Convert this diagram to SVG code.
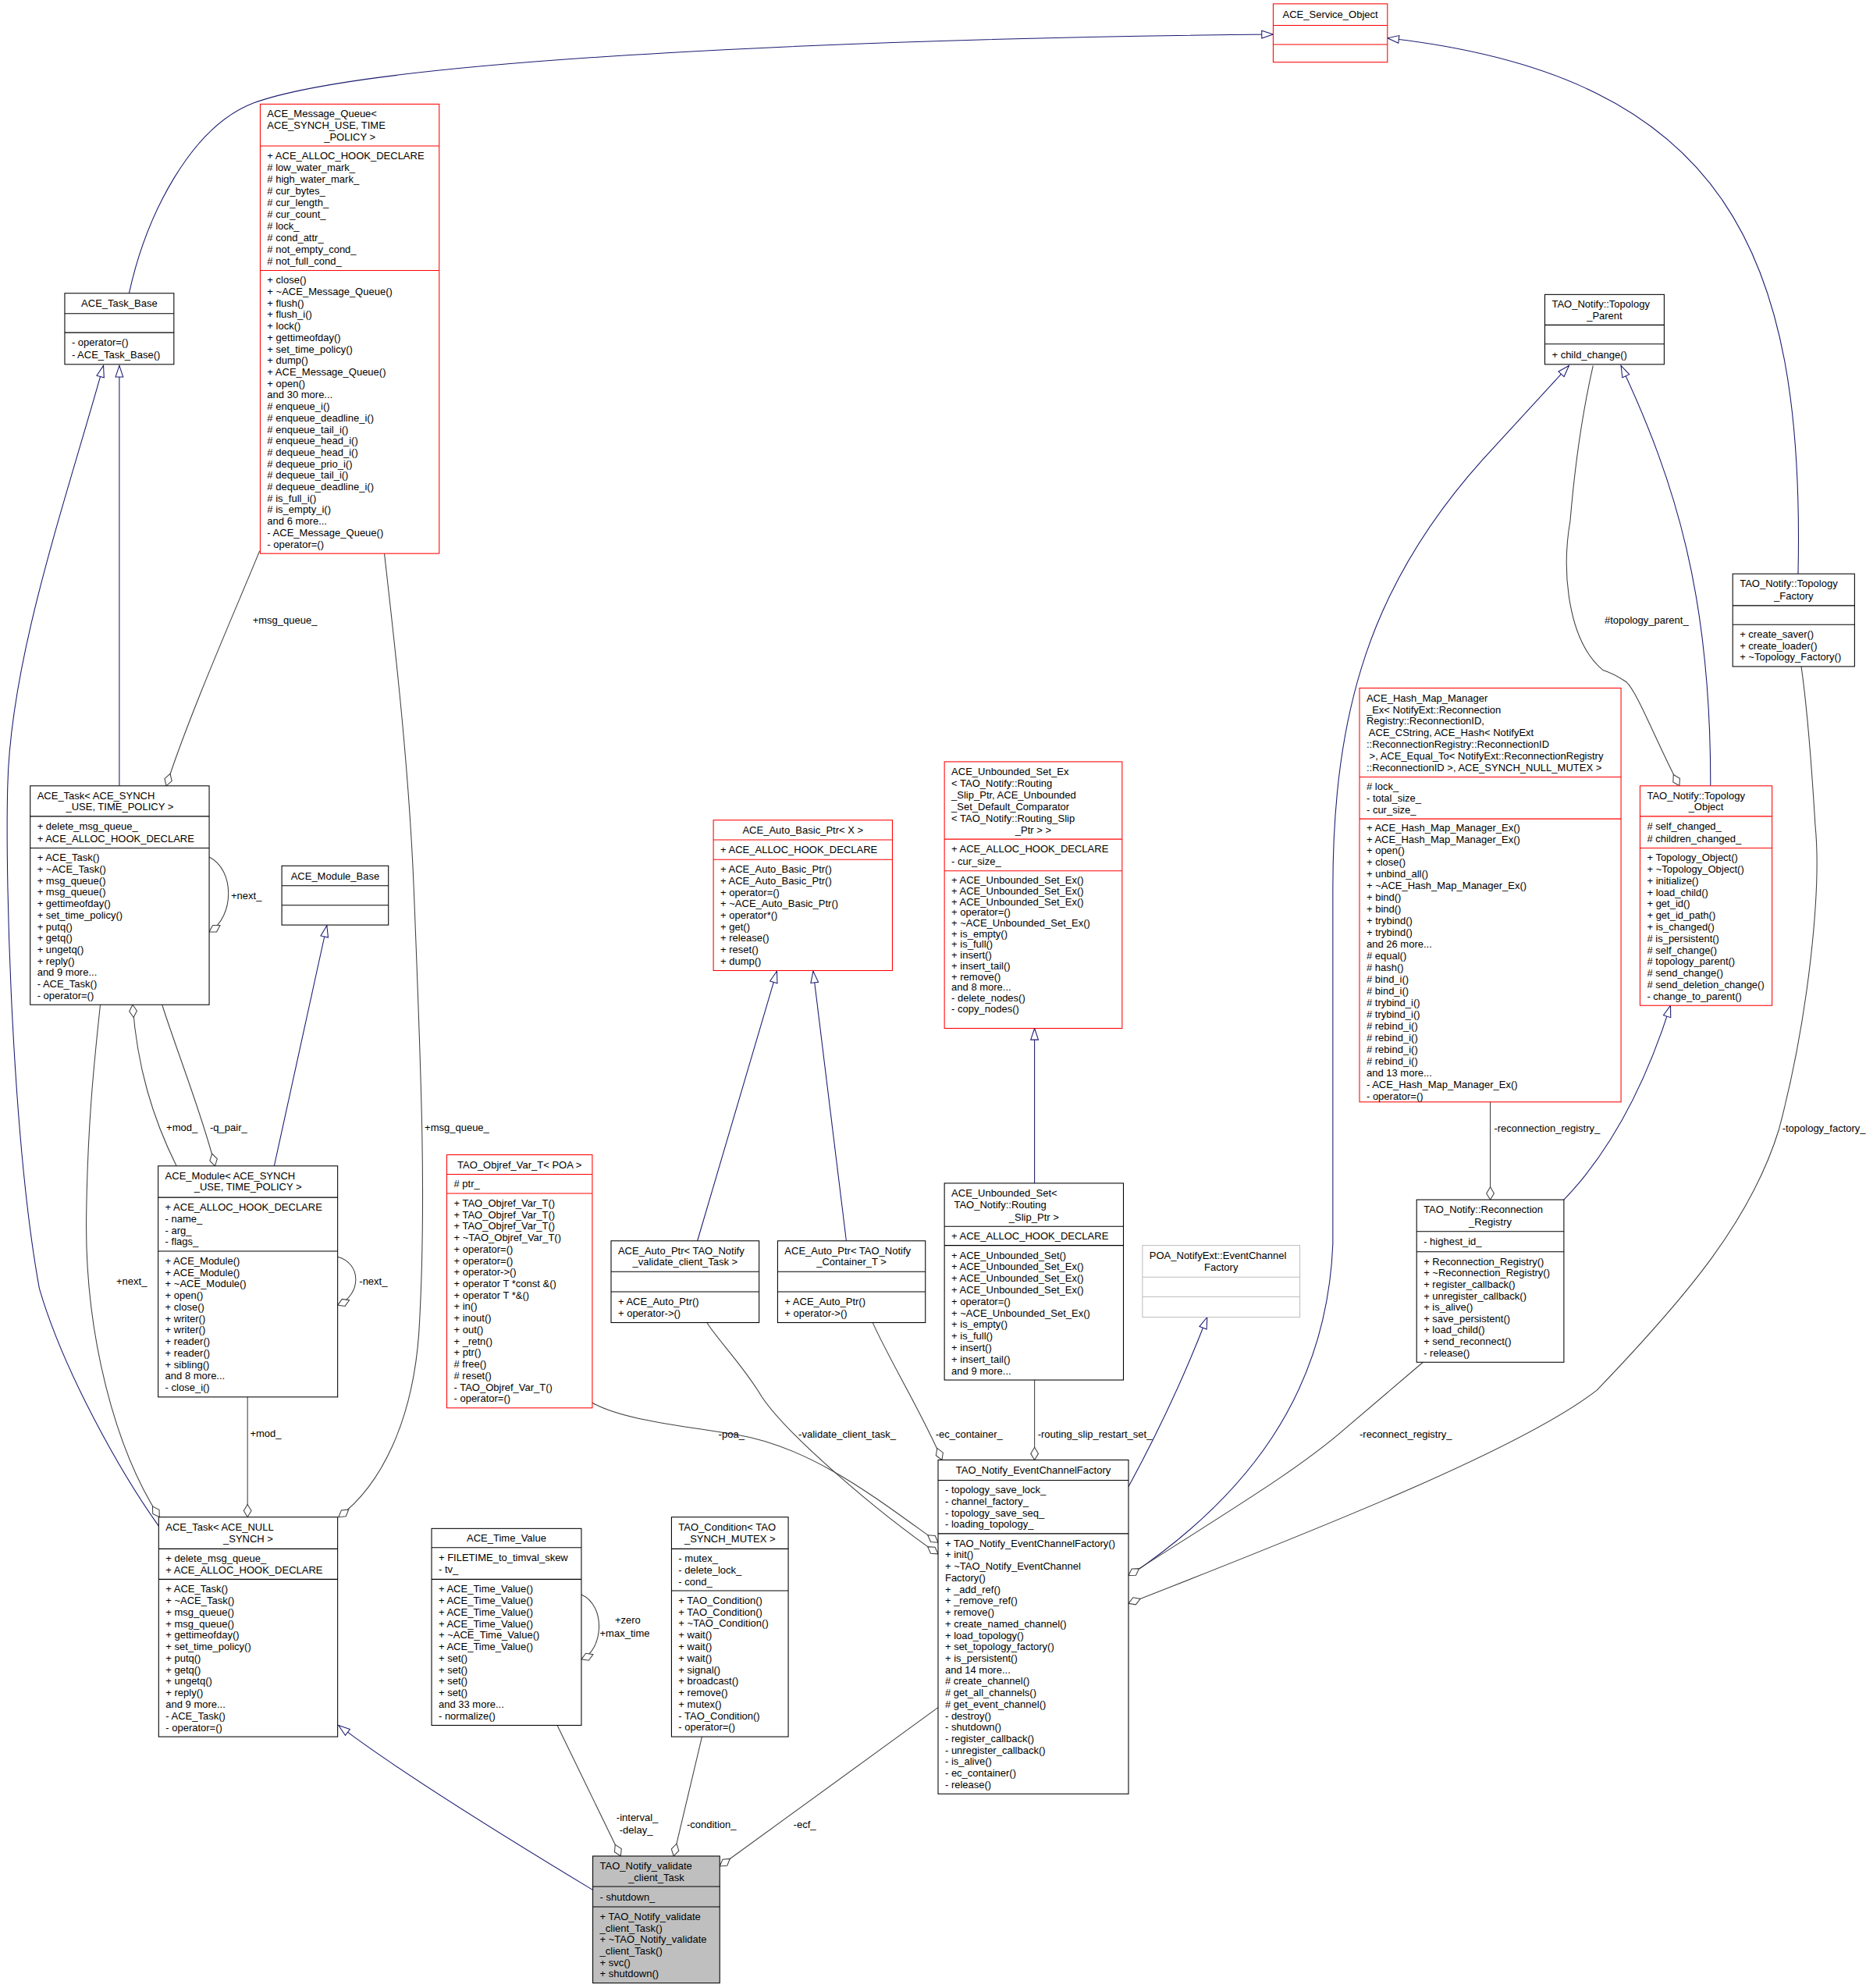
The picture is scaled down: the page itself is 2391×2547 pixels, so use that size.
<svg xmlns="http://www.w3.org/2000/svg" width="2391" height="2547" viewBox="0 0 2391 2547">
<style>
.b{fill:#fff;stroke:#000;stroke-width:.65}
.r{fill:#fff;stroke:#f00;stroke-width:.65}
.g{fill:#fff;stroke:#bfbfbf;stroke-width:.65}
.s{fill:#bfbfbf;stroke:#000;stroke-width:.65}
.lb{stroke:#000;stroke-width:.65}
.lr{stroke:#f00;stroke-width:.65}
.lg{stroke:#bfbfbf;stroke-width:.65}
text{font-family:"Liberation Sans",Arial,sans-serif;font-size:8px;fill:#000}
.c{text-anchor:middle}
.e{fill:none;stroke:#404040;stroke-width:.65;marker-start:url(#d)}
.i{fill:none;stroke:#191970;stroke-width:.65;marker-end:url(#a)}
</style>
<defs>
<marker id="a" markerUnits="userSpaceOnUse" markerWidth="11" markerHeight="8" refX="9" refY="3" orient="auto" viewBox="-1 -1 11 8" overflow="visible"><path d="M0,0 L9,3 L0,6 Z" fill="#fff" stroke="#191970" stroke-width=".65"/></marker>
<marker id="d" markerUnits="userSpaceOnUse" markerWidth="12" markerHeight="8" refX="0" refY="3" orient="auto" viewBox="-1 -1 12 8" overflow="visible"><path d="M0,3 L5,0 L10,3 L5,6 Z" fill="#fff" stroke="#404040" stroke-width=".65"/></marker>
</defs>
<rect width="2391" height="2547" fill="#fff"/>
<g transform="scale(1.62653)">
<g id="edges">
<path class="i" d="M101.7,231 C115,170 150,100 200,81 C300,45 700,30 1003,27"/>
<path class="i" d="M1416.5,452 C1422,200 1360,60 1093,30"/>
<path class="i" d="M94,619 L94,288"/>
<path class="i" d="M125,1202 C95,1160 50,1080 31,1015 C10,900 4,700 6,620 C8,520 50,400 81.5,288"/>
<path class="i" d="M216,918.4 L257.5,729"/>
<path class="i" d="M467.5,1489 Q320,1400 266.7,1359"/>
<path class="i" d="M549.4,977.4 L612,765"/>
<path class="i" d="M666.7,977.4 L640.6,765"/>
<path class="i" d="M815,932 L815,810"/>
<path class="i" d="M889,1171 Q925,1105 951,1037.5"/>
<path class="i" d="M890,1241 C980,1180 1045,1100 1050,980 L1050,700 C1050,560 1080,460 1168,362 L1236,288"/>
<path class="i" d="M1347.5,619 C1348,470 1320,380 1277,288"/>
<path class="i" d="M1232,945 Q1285,890 1316,792"/>
<path class="e" d="M131,619 C150,560 190,470 204.5,434"/>
<path class="e" d="M266.7,1195 C300,1170 325,1120 330,1050 C336,950 332,850 326,700 C322,600 310,500 302.8,436"/>
<path class="e" d="M164.8,734 C185,722 185,685 164.8,675"/>
<path class="e" d="M125.6,1195 C90,1140 67,1050 68,960 C69,880 75,830 79,791.4"/>
<path class="e" d="M104.5,791.4 C108,840 120,880 139,918.4"/>
<path class="e" d="M169.4,918.4 C160,880 140,830 127.7,791.4"/>
<path class="e" d="M266,1028 C285,1020 285,995 266,990"/>
<path class="e" d="M195,1195 L195,1100.4"/>
<path class="e" d="M458,1307 C475,1300 478,1265 458,1256"/>
<path class="e" d="M489,1462 L439,1359"/>
<path class="e" d="M530.7,1462 L553,1368"/>
<path class="e" d="M567,1470 L739,1345"/>
<path class="e" d="M739,1215 C690,1180 640,1140 580,1130 C530,1122 490,1118 466.6,1105"/>
<path class="e" d="M739,1224 C690,1190 620,1130 600,1100 C585,1075 565,1055 557,1042"/>
<path class="e" d="M742,1150 C730,1120 700,1070 687.6,1042"/>
<path class="e" d="M815,1150 L815,1087"/>
<path class="e" d="M889,1241 C960,1195 1020,1160 1060,1125 L1121,1073"/>
<path class="e" d="M1174,945 L1174,868"/>
<path class="e" d="M889,1263 C1050,1200 1200,1140 1258,1095 C1330,1020 1380,960 1401.6,889 C1425,800 1435,700 1430,650 C1427,600 1424,560 1419,525"/>
<path class="e" d="M1323,619 C1305,585 1290,545 1281,537 Q1270,530 1263,528 C1235,505 1230,450 1237,410 C1242,350 1250,310 1255,288"/>
<text x="199" y="491.5">+msg_queue_</text>
<text x="182" y="708">+next_</text>
<text x="131" y="891">+mod_</text>
<text x="165.4" y="891">-q_pair_</text>
<text x="91.6" y="1012">+next_</text>
<text x="283" y="1012">-next_</text>
<text x="334.5" y="891">+msg_queue_</text>
<text x="197" y="1132">+mod_</text>
<text x="484.4" y="1279">+zero</text>
<text x="472.5" y="1289">+max_time</text>
<text x="485.6" y="1434.5">-interval_</text>
<text x="488" y="1444">-delay_</text>
<text x="541" y="1440">-condition_</text>
<text x="625" y="1440">-ecf_</text>
<text x="566" y="1132.5">-poa_</text>
<text x="629" y="1132.5">-validate_client_task_</text>
<text x="737" y="1132.5">-ec_container_</text>
<text x="817.5" y="1132.5">-routing_slip_restart_set_</text>
<text x="1071" y="1132.5">-reconnect_registry_</text>
<text x="1177" y="891.5">-reconnection_registry_</text>
<text x="1404" y="891.5">-topology_factory_</text>
<text x="1264" y="491">#topology_parent_</text>
</g>

<g id="ACE_Service_Object">
<rect class="r" x="1003" y="3" width="90" height="46"/>
<path class="lr" d="M1003,20H1093M1003,35H1093"/>
<text class="c" x="1048" y="14.4">ACE_Service_Object</text>
</g>

<g id="ACE_Message_Queue">
<rect class="r" x="205" y="82" width="141" height="354"/>
<path class="lr" d="M205,115H346M205,213H346"/>
<text x="210.5" y="92.4">ACE_Message_Queue&lt;</text>
<text x="210.5" y="101.4"> ACE_SYNCH_USE, TIME</text>
<text class="c" x="275.5" y="110.4">_POLICY &gt;</text>
<text x="210.5" y="125.5"><tspan x="210.5">+ ACE_ALLOC_HOOK_DECLARE</tspan><tspan x="210.5" dy="9.2"># low_water_mark_</tspan><tspan x="210.5" dy="9.2"># high_water_mark_</tspan><tspan x="210.5" dy="9.2"># cur_bytes_</tspan><tspan x="210.5" dy="9.2"># cur_length_</tspan><tspan x="210.5" dy="9.2"># cur_count_</tspan><tspan x="210.5" dy="9.2"># lock_</tspan><tspan x="210.5" dy="9.2"># cond_attr_</tspan><tspan x="210.5" dy="9.2"># not_empty_cond_</tspan><tspan x="210.5" dy="9.2"># not_full_cond_</tspan></text>
<text x="210.5" y="223.4"><tspan x="210.5">+ close()</tspan><tspan x="210.5" dy="9.04">+ ~ACE_Message_Queue()</tspan><tspan x="210.5" dy="9.04">+ flush()</tspan><tspan x="210.5" dy="9.04">+ flush_i()</tspan><tspan x="210.5" dy="9.04">+ lock()</tspan><tspan x="210.5" dy="9.04">+ gettimeofday()</tspan><tspan x="210.5" dy="9.04">+ set_time_policy()</tspan><tspan x="210.5" dy="9.04">+ dump()</tspan><tspan x="210.5" dy="9.04">+ ACE_Message_Queue()</tspan><tspan x="210.5" dy="9.04">+ open()</tspan><tspan x="210.5" dy="9.04">and 30 more...</tspan><tspan x="210.5" dy="9.04"># enqueue_i()</tspan><tspan x="210.5" dy="9.04"># enqueue_deadline_i()</tspan><tspan x="210.5" dy="9.04"># enqueue_tail_i()</tspan><tspan x="210.5" dy="9.04"># enqueue_head_i()</tspan><tspan x="210.5" dy="9.04"># dequeue_head_i()</tspan><tspan x="210.5" dy="9.04"># dequeue_prio_i()</tspan><tspan x="210.5" dy="9.04"># dequeue_tail_i()</tspan><tspan x="210.5" dy="9.04"># dequeue_deadline_i()</tspan><tspan x="210.5" dy="9.04"># is_full_i()</tspan><tspan x="210.5" dy="9.04"># is_empty_i()</tspan><tspan x="210.5" dy="9.04">and 6 more...</tspan><tspan x="210.5" dy="9.04">- ACE_Message_Queue()</tspan><tspan x="210.5" dy="9.04">- operator=()</tspan></text>
</g>

<g id="ACE_Task_Base">
<rect class="b" x="51" y="231" width="86" height="56"/>
<path class="lb" d="M51,247H137M51,262H137"/>
<text class="c" x="94" y="241.9">ACE_Task_Base</text>
<text x="56.5" y="272.6"><tspan x="56.5">- operator=()</tspan><tspan x="56.5" dy="9.5">- ACE_Task_Base()</tspan></text>
</g>

<g id="Topology_Parent">
<rect class="b" x="1217" y="232" width="94" height="55"/>
<path class="lb" d="M1217,256H1311M1217,271H1311"/>
<text x="1222.5" y="242.4">TAO_Notify::Topology</text>
<text class="c" x="1264" y="251.4">_Parent</text>
<text x="1222.5" y="281.9">+ child_change()</text>
</g>

<g id="Topology_Factory">
<rect class="b" x="1365" y="452" width="96" height="73"/>
<path class="lb" d="M1365,477H1461M1365,492H1461"/>
<text x="1370.5" y="462.6">TAO_Notify::Topology</text>
<text class="c" x="1413" y="472.1">_Factory</text>
<text x="1370.5" y="502.4"><tspan x="1370.5">+ create_saver()</tspan><tspan x="1370.5" dy="9">+ create_loader()</tspan><tspan x="1370.5" dy="9">+ ~Topology_Factory()</tspan></text>
</g>

<g id="ACE_Hash_Map_Manager_Ex">
<rect class="r" x="1071" y="542" width="206" height="326"/>
<path class="lr" d="M1071,612H1277M1071,645H1277"/>
<text x="1076.5" y="552.5"><tspan x="1076.5">ACE_Hash_Map_Manager</tspan><tspan x="1076.5" dy="9.14">_Ex&lt; NotifyExt::Reconnection</tspan><tspan x="1076.5" dy="9.14">Registry::ReconnectionID,</tspan><tspan x="1076.5" dy="9.14"> ACE_CString, ACE_Hash&lt; NotifyExt</tspan><tspan x="1076.5" dy="9.14">::ReconnectionRegistry::ReconnectionID</tspan><tspan x="1076.5" dy="9.14"> &gt;, ACE_Equal_To&lt; NotifyExt::ReconnectionRegistry</tspan><tspan x="1076.5" dy="9.14">::ReconnectionID &gt;, ACE_SYNCH_NULL_MUTEX &gt;</tspan></text>
<text x="1076.5" y="622.4"><tspan x="1076.5"># lock_</tspan><tspan x="1076.5" dy="9">- total_size_</tspan><tspan x="1076.5" dy="9">- cur_size_</tspan></text>
<text x="1076.5" y="654.5"><tspan x="1076.5">+ ACE_Hash_Map_Manager_Ex()</tspan><tspan x="1076.5" dy="9.2">+ ACE_Hash_Map_Manager_Ex()</tspan><tspan x="1076.5" dy="9.2">+ open()</tspan><tspan x="1076.5" dy="9.2">+ close()</tspan><tspan x="1076.5" dy="9.2">+ unbind_all()</tspan><tspan x="1076.5" dy="9.2">+ ~ACE_Hash_Map_Manager_Ex()</tspan><tspan x="1076.5" dy="9.2">+ bind()</tspan><tspan x="1076.5" dy="9.2">+ bind()</tspan><tspan x="1076.5" dy="9.2">+ trybind()</tspan><tspan x="1076.5" dy="9.2">+ trybind()</tspan><tspan x="1076.5" dy="9.2">and 26 more...</tspan><tspan x="1076.5" dy="9.2"># equal()</tspan><tspan x="1076.5" dy="9.2"># hash()</tspan><tspan x="1076.5" dy="9.2"># bind_i()</tspan><tspan x="1076.5" dy="9.2"># bind_i()</tspan><tspan x="1076.5" dy="9.2"># trybind_i()</tspan><tspan x="1076.5" dy="9.2"># trybind_i()</tspan><tspan x="1076.5" dy="9.2"># rebind_i()</tspan><tspan x="1076.5" dy="9.2"># rebind_i()</tspan><tspan x="1076.5" dy="9.2"># rebind_i()</tspan><tspan x="1076.5" dy="9.2"># rebind_i()</tspan><tspan x="1076.5" dy="9.2">and 13 more...</tspan><tspan x="1076.5" dy="9.2">- ACE_Hash_Map_Manager_Ex()</tspan><tspan x="1076.5" dy="9.2">- operator=()</tspan></text>
</g>

<g id="Topology_Object">
<rect class="r" x="1292" y="619" width="104" height="173"/>
<path class="lr" d="M1292,643H1396M1292,668H1396"/>
<text x="1297.5" y="629.4">TAO_Notify::Topology</text>
<text class="c" x="1344" y="638.4">_Object</text>
<text x="1297.5" y="653.6"><tspan x="1297.5"># self_changed_</tspan><tspan x="1297.5" dy="9.5"># children_changed_</tspan></text>
<text x="1297.5" y="678.4"><tspan x="1297.5">+ Topology_Object()</tspan><tspan x="1297.5" dy="9.08">+ ~Topology_Object()</tspan><tspan x="1297.5" dy="9.08">+ initialize()</tspan><tspan x="1297.5" dy="9.08">+ load_child()</tspan><tspan x="1297.5" dy="9.08">+ get_id()</tspan><tspan x="1297.5" dy="9.08">+ get_id_path()</tspan><tspan x="1297.5" dy="9.08">+ is_changed()</tspan><tspan x="1297.5" dy="9.08"># is_persistent()</tspan><tspan x="1297.5" dy="9.08"># self_change()</tspan><tspan x="1297.5" dy="9.08"># topology_parent()</tspan><tspan x="1297.5" dy="9.08"># send_change()</tspan><tspan x="1297.5" dy="9.08"># send_deletion_change()</tspan><tspan x="1297.5" dy="9.08">- change_to_parent()</tspan></text>
</g>

<g id="ACE_Unbounded_Set_Ex">
<rect class="r" x="744" y="600" width="140" height="210"/>
<path class="lr" d="M744,661H884M744,686H884"/>
<text x="749.5" y="610.5"><tspan x="749.5">ACE_Unbounded_Set_Ex</tspan><tspan x="749.5" dy="9.17">&lt; TAO_Notify::Routing</tspan><tspan x="749.5" dy="9.17">_Slip_Ptr, ACE_Unbounded</tspan><tspan x="749.5" dy="9.17">_Set_Default_Comparator</tspan><tspan x="749.5" dy="9.17">&lt; TAO_Notify::Routing_Slip</tspan></text>
<text class="c" x="814" y="656.4">_Ptr &gt; &gt;</text>
<text x="749.5" y="671.6"><tspan x="749.5">+ ACE_ALLOC_HOOK_DECLARE</tspan><tspan x="749.5" dy="9.5">- cur_size_</tspan></text>
<text x="749.5" y="696.1"><tspan x="749.5">+ ACE_Unbounded_Set_Ex()</tspan><tspan x="749.5" dy="8.43">+ ACE_Unbounded_Set_Ex()</tspan><tspan x="749.5" dy="8.43">+ ACE_Unbounded_Set_Ex()</tspan><tspan x="749.5" dy="8.43">+ operator=()</tspan><tspan x="749.5" dy="8.43">+ ~ACE_Unbounded_Set_Ex()</tspan><tspan x="749.5" dy="8.43">+ is_empty()</tspan><tspan x="749.5" dy="8.43">+ is_full()</tspan><tspan x="749.5" dy="8.43">+ insert()</tspan><tspan x="749.5" dy="8.43">+ insert_tail()</tspan><tspan x="749.5" dy="8.43">+ remove()</tspan><tspan x="749.5" dy="8.43">and 8 more...</tspan><tspan x="749.5" dy="8.43">- delete_nodes()</tspan><tspan x="749.5" dy="8.43">- copy_nodes()</tspan></text>
</g>

<g id="ACE_Auto_Basic_Ptr">
<rect class="r" x="562" y="646" width="141" height="118.5"/>
<path class="lr" d="M562,661.5H703M562,677H703"/>
<text class="c" x="632.5" y="656.6">ACE_Auto_Basic_Ptr&lt; X &gt;</text>
<text x="567.5" y="672.1">+ ACE_ALLOC_HOOK_DECLARE</text>
<text x="567.5" y="687.4"><tspan x="567.5">+ ACE_Auto_Basic_Ptr()</tspan><tspan x="567.5" dy="9.06">+ ACE_Auto_Basic_Ptr()</tspan><tspan x="567.5" dy="9.06">+ operator=()</tspan><tspan x="567.5" dy="9.06">+ ~ACE_Auto_Basic_Ptr()</tspan><tspan x="567.5" dy="9.06">+ operator*()</tspan><tspan x="567.5" dy="9.06">+ get()</tspan><tspan x="567.5" dy="9.06">+ release()</tspan><tspan x="567.5" dy="9.06">+ reset()</tspan><tspan x="567.5" dy="9.06">+ dump()</tspan></text>
</g>

<g id="ACE_Task_SYNCH">
<rect class="b" x="23.8" y="619" width="141" height="172.4"/>
<path class="lb" d="M23.8,643H164.8M23.8,668H164.8"/>
<text x="29.3" y="629.4">ACE_Task&lt; ACE_SYNCH</text>
<text class="c" x="94.3" y="638.4">_USE, TIME_POLICY &gt;</text>
<text x="29.3" y="653.6"><tspan x="29.3">+ delete_msg_queue_</tspan><tspan x="29.3" dy="9.5">+ ACE_ALLOC_HOOK_DECLARE</tspan></text>
<text x="29.3" y="678.4"><tspan x="29.3">+ ACE_Task()</tspan><tspan x="29.3" dy="9.03">+ ~ACE_Task()</tspan><tspan x="29.3" dy="9.03">+ msg_queue()</tspan><tspan x="29.3" dy="9.03">+ msg_queue()</tspan><tspan x="29.3" dy="9.03">+ gettimeofday()</tspan><tspan x="29.3" dy="9.03">+ set_time_policy()</tspan><tspan x="29.3" dy="9.03">+ putq()</tspan><tspan x="29.3" dy="9.03">+ getq()</tspan><tspan x="29.3" dy="9.03">+ ungetq()</tspan><tspan x="29.3" dy="9.03">+ reply()</tspan><tspan x="29.3" dy="9.03">and 9 more...</tspan><tspan x="29.3" dy="9.03">- ACE_Task()</tspan><tspan x="29.3" dy="9.03">- operator=()</tspan></text>
</g>

<g id="ACE_Module_Base">
<rect class="b" x="222" y="682" width="84" height="46.6"/>
<path class="lb" d="M222,697.6H306M222,713H306"/>
<text class="c" x="264" y="692.7">ACE_Module_Base</text>
</g>

<g id="ACE_Module">
<rect class="b" x="124.6" y="918.4" width="141.4" height="182"/>
<path class="lb" d="M124.6,943.2H266M124.6,985.5H266"/>
<text x="130.1" y="928.8">ACE_Module&lt; ACE_SYNCH</text>
<text class="c" x="195.3" y="937.8">_USE, TIME_POLICY &gt;</text>
<text x="130.1" y="953.6"><tspan x="130.1">+ ACE_ALLOC_HOOK_DECLARE</tspan><tspan x="130.1" dy="9.07">- name_</tspan><tspan x="130.1" dy="9.07">- arg_</tspan><tspan x="130.1" dy="9.07">- flags_</tspan></text>
<text x="130.1" y="995.9"><tspan x="130.1">+ ACE_Module()</tspan><tspan x="130.1" dy="9.07">+ ACE_Module()</tspan><tspan x="130.1" dy="9.07">+ ~ACE_Module()</tspan><tspan x="130.1" dy="9.07">+ open()</tspan><tspan x="130.1" dy="9.07">+ close()</tspan><tspan x="130.1" dy="9.07">+ writer()</tspan><tspan x="130.1" dy="9.07">+ writer()</tspan><tspan x="130.1" dy="9.07">+ reader()</tspan><tspan x="130.1" dy="9.07">+ reader()</tspan><tspan x="130.1" dy="9.07">+ sibling()</tspan><tspan x="130.1" dy="9.07">and 8 more...</tspan><tspan x="130.1" dy="9.07">- close_i()</tspan></text>
</g>

<g id="TAO_Objref_Var_T">
<rect class="r" x="352" y="909.6" width="114.6" height="199.4"/>
<path class="lr" d="M352,925H466.6M352,940H466.6"/>
<text class="c" x="409.3" y="920.2">TAO_Objref_Var_T&lt; POA &gt;</text>
<text x="357.5" y="935.4"># ptr_</text>
<text x="357.5" y="950.4"><tspan x="357.5">+ TAO_Objref_Var_T()</tspan><tspan x="357.5" dy="9.06">+ TAO_Objref_Var_T()</tspan><tspan x="357.5" dy="9.06">+ TAO_Objref_Var_T()</tspan><tspan x="357.5" dy="9.06">+ ~TAO_Objref_Var_T()</tspan><tspan x="357.5" dy="9.06">+ operator=()</tspan><tspan x="357.5" dy="9.06">+ operator=()</tspan><tspan x="357.5" dy="9.06">+ operator-&gt;()</tspan><tspan x="357.5" dy="9.06">+ operator T *const &amp;()</tspan><tspan x="357.5" dy="9.06">+ operator T *&amp;()</tspan><tspan x="357.5" dy="9.06">+ in()</tspan><tspan x="357.5" dy="9.06">+ inout()</tspan><tspan x="357.5" dy="9.06">+ out()</tspan><tspan x="357.5" dy="9.06">+ _retn()</tspan><tspan x="357.5" dy="9.06">+ ptr()</tspan><tspan x="357.5" dy="9.06"># free()</tspan><tspan x="357.5" dy="9.06"># reset()</tspan><tspan x="357.5" dy="9.06">- TAO_Objref_Var_T()</tspan><tspan x="357.5" dy="9.06">- operator=()</tspan></text>
</g>

<g id="ACE_Auto_Ptr_validate">
<rect class="b" x="481.4" y="977.4" width="116.6" height="64.4"/>
<path class="lb" d="M481.4,1001.7H598M481.4,1017.5H598"/>
<text x="486.9" y="987.8">ACE_Auto_Ptr&lt; TAO_Notify</text>
<text class="c" x="539.7" y="996.8">_validate_client_Task &gt;</text>
<text x="486.9" y="1028"><tspan x="486.9">+ ACE_Auto_Ptr()</tspan><tspan x="486.9" dy="9.15">+ operator-&gt;()</tspan></text>
</g>

<g id="ACE_Auto_Ptr_Container">
<rect class="b" x="612.6" y="977.4" width="116.4" height="64.4"/>
<path class="lb" d="M612.6,1001.7H729M612.6,1017.5H729"/>
<text x="618.1" y="987.8">ACE_Auto_Ptr&lt; TAO_Notify</text>
<text class="c" x="670.8" y="996.8">_Container_T &gt;</text>
<text x="618.1" y="1028"><tspan x="618.1">+ ACE_Auto_Ptr()</tspan><tspan x="618.1" dy="9.15">+ operator-&gt;()</tspan></text>
</g>

<g id="ACE_Unbounded_Set">
<rect class="b" x="744" y="932" width="141" height="155"/>
<path class="lb" d="M744,966H885M744,981H885"/>
<text x="749.5" y="942.6"><tspan x="749.5">ACE_Unbounded_Set&lt;</tspan><tspan x="749.5" dy="9.33"> TAO_Notify::Routing</tspan></text>
<text class="c" x="814.5" y="961.3">_Slip_Ptr &gt;</text>
<text x="749.5" y="976.4">+ ACE_ALLOC_HOOK_DECLARE</text>
<text x="749.5" y="991.5"><tspan x="749.5">+ ACE_Unbounded_Set()</tspan><tspan x="749.5" dy="9.09">+ ACE_Unbounded_Set_Ex()</tspan><tspan x="749.5" dy="9.09">+ ACE_Unbounded_Set_Ex()</tspan><tspan x="749.5" dy="9.09">+ ACE_Unbounded_Set_Ex()</tspan><tspan x="749.5" dy="9.09">+ operator=()</tspan><tspan x="749.5" dy="9.09">+ ~ACE_Unbounded_Set_Ex()</tspan><tspan x="749.5" dy="9.09">+ is_empty()</tspan><tspan x="749.5" dy="9.09">+ is_full()</tspan><tspan x="749.5" dy="9.09">+ insert()</tspan><tspan x="749.5" dy="9.09">+ insert_tail()</tspan><tspan x="749.5" dy="9.09">and 9 more...</tspan></text>
</g>

<g id="POA_NotifyExt_EventChannelFactory">
<rect class="g" x="900" y="981" width="124" height="56.5"/>
<path class="lg" d="M900,1006H1024M900,1021.5H1024"/>
<text x="905.5" y="991.6">POA_NotifyExt::EventChannel</text>
<text class="c" x="962" y="1001.1">Factory</text>
</g>

<g id="Reconnection_Registry">
<rect class="b" x="1116" y="945" width="116" height="128"/>
<path class="lb" d="M1116,970H1232M1116,986H1232"/>
<text x="1121.5" y="955.6">TAO_Notify::Reconnection</text>
<text class="c" x="1174" y="965.1">_Registry</text>
<text x="1121.5" y="980.9">- highest_id_</text>
<text x="1121.5" y="996.4"><tspan x="1121.5">+ Reconnection_Registry()</tspan><tspan x="1121.5" dy="9">+ ~Reconnection_Registry()</tspan><tspan x="1121.5" dy="9">+ register_callback()</tspan><tspan x="1121.5" dy="9">+ unregister_callback()</tspan><tspan x="1121.5" dy="9">+ is_alive()</tspan><tspan x="1121.5" dy="9">+ save_persistent()</tspan><tspan x="1121.5" dy="9">+ load_child()</tspan><tspan x="1121.5" dy="9">+ send_reconnect()</tspan><tspan x="1121.5" dy="9">- release()</tspan></text>
</g>

<g id="TAO_Notify_EventChannelFactory">
<rect class="b" x="739" y="1150" width="150" height="263"/>
<path class="lb" d="M739,1166H889M739,1208H889"/>
<text class="c" x="814" y="1160.9">TAO_Notify_EventChannelFactory</text>
<text x="744.5" y="1176.4"><tspan x="744.5">- topology_save_lock_</tspan><tspan x="744.5" dy="9">- channel_factory_</tspan><tspan x="744.5" dy="9">- topology_save_seq_</tspan><tspan x="744.5" dy="9">- loading_topology_</tspan></text>
<text x="744.5" y="1218.4"><tspan x="744.5">+ TAO_Notify_EventChannelFactory()</tspan><tspan x="744.5" dy="9.05">+ init()</tspan><tspan x="744.5" dy="9.05">+ ~TAO_Notify_EventChannel</tspan><tspan x="744.5" dy="9.05">Factory()</tspan><tspan x="744.5" dy="9.05">+ _add_ref()</tspan><tspan x="744.5" dy="9.05">+ _remove_ref()</tspan><tspan x="744.5" dy="9.05">+ remove()</tspan><tspan x="744.5" dy="9.05">+ create_named_channel()</tspan><tspan x="744.5" dy="9.05">+ load_topology()</tspan><tspan x="744.5" dy="9.05">+ set_topology_factory()</tspan><tspan x="744.5" dy="9.05">+ is_persistent()</tspan><tspan x="744.5" dy="9.05">and 14 more...</tspan><tspan x="744.5" dy="9.05"># create_channel()</tspan><tspan x="744.5" dy="9.05"># get_all_channels()</tspan><tspan x="744.5" dy="9.05"># get_event_channel()</tspan><tspan x="744.5" dy="9.05">- destroy()</tspan><tspan x="744.5" dy="9.05">- shutdown()</tspan><tspan x="744.5" dy="9.05">- register_callback()</tspan><tspan x="744.5" dy="9.05">- unregister_callback()</tspan><tspan x="744.5" dy="9.05">- is_alive()</tspan><tspan x="744.5" dy="9.05">- ec_container()</tspan><tspan x="744.5" dy="9.05">- release()</tspan></text>
</g>

<g id="ACE_Task_NULL_SYNCH">
<rect class="b" x="125" y="1195" width="141" height="173"/>
<path class="lb" d="M125,1220H266M125,1244H266"/>
<text x="130.5" y="1205.6">ACE_Task&lt; ACE_NULL</text>
<text class="c" x="195.5" y="1215.1">_SYNCH &gt;</text>
<text x="130.5" y="1230.4"><tspan x="130.5">+ delete_msg_queue_</tspan><tspan x="130.5" dy="9">+ ACE_ALLOC_HOOK_DECLARE</tspan></text>
<text x="130.5" y="1254.4"><tspan x="130.5">+ ACE_Task()</tspan><tspan x="130.5" dy="9.08">+ ~ACE_Task()</tspan><tspan x="130.5" dy="9.08">+ msg_queue()</tspan><tspan x="130.5" dy="9.08">+ msg_queue()</tspan><tspan x="130.5" dy="9.08">+ gettimeofday()</tspan><tspan x="130.5" dy="9.08">+ set_time_policy()</tspan><tspan x="130.5" dy="9.08">+ putq()</tspan><tspan x="130.5" dy="9.08">+ getq()</tspan><tspan x="130.5" dy="9.08">+ ungetq()</tspan><tspan x="130.5" dy="9.08">+ reply()</tspan><tspan x="130.5" dy="9.08">and 9 more...</tspan><tspan x="130.5" dy="9.08">- ACE_Task()</tspan><tspan x="130.5" dy="9.08">- operator=()</tspan></text>
</g>

<g id="ACE_Time_Value">
<rect class="b" x="340" y="1204" width="118" height="155"/>
<path class="lb" d="M340,1219H458M340,1244H458"/>
<text class="c" x="399" y="1214.4">ACE_Time_Value</text>
<text x="345.5" y="1229.6"><tspan x="345.5">+ FILETIME_to_timval_skew</tspan><tspan x="345.5" dy="9.5">- tv_</tspan></text>
<text x="345.5" y="1254.4"><tspan x="345.5">+ ACE_Time_Value()</tspan><tspan x="345.5" dy="9.08">+ ACE_Time_Value()</tspan><tspan x="345.5" dy="9.08">+ ACE_Time_Value()</tspan><tspan x="345.5" dy="9.08">+ ACE_Time_Value()</tspan><tspan x="345.5" dy="9.08">+ ~ACE_Time_Value()</tspan><tspan x="345.5" dy="9.08">+ ACE_Time_Value()</tspan><tspan x="345.5" dy="9.08">+ set()</tspan><tspan x="345.5" dy="9.08">+ set()</tspan><tspan x="345.5" dy="9.08">+ set()</tspan><tspan x="345.5" dy="9.08">+ set()</tspan><tspan x="345.5" dy="9.08">and 33 more...</tspan><tspan x="345.5" dy="9.08">- normalize()</tspan></text>
</g>

<g id="TAO_Condition">
<rect class="b" x="529" y="1195" width="92" height="173"/>
<path class="lb" d="M529,1220H621M529,1253H621"/>
<text x="534.5" y="1205.6">TAO_Condition&lt; TAO</text>
<text class="c" x="575" y="1215.1">_SYNCH_MUTEX &gt;</text>
<text x="534.5" y="1230.4"><tspan x="534.5">- mutex_</tspan><tspan x="534.5" dy="9">- delete_lock_</tspan><tspan x="534.5" dy="9">- cond_</tspan></text>
<text x="534.5" y="1263.4"><tspan x="534.5">+ TAO_Condition()</tspan><tspan x="534.5" dy="9.08">+ TAO_Condition()</tspan><tspan x="534.5" dy="9.08">+ ~TAO_Condition()</tspan><tspan x="534.5" dy="9.08">+ wait()</tspan><tspan x="534.5" dy="9.08">+ wait()</tspan><tspan x="534.5" dy="9.08">+ wait()</tspan><tspan x="534.5" dy="9.08">+ signal()</tspan><tspan x="534.5" dy="9.08">+ broadcast()</tspan><tspan x="534.5" dy="9.08">+ remove()</tspan><tspan x="534.5" dy="9.08">+ mutex()</tspan><tspan x="534.5" dy="9.08">- TAO_Condition()</tspan><tspan x="534.5" dy="9.08">- operator=()</tspan></text>
</g>

<g id="TAO_Notify_validate_client_Task">
<rect class="s" x="467" y="1462" width="100" height="100"/>
<path class="lb" d="M467,1486H567M467,1502H567"/>
<text x="472.5" y="1472.4">TAO_Notify_validate</text>
<text class="c" x="517" y="1481.4">_client_Task</text>
<text x="472.5" y="1496.9">- shutdown_</text>
<text x="472.5" y="1512.4"><tspan x="472.5">+ TAO_Notify_validate</tspan><tspan x="472.5" dy="9">_client_Task()</tspan><tspan x="472.5" dy="9">+ ~TAO_Notify_validate</tspan><tspan x="472.5" dy="9">_client_Task()</tspan><tspan x="472.5" dy="9">+ svc()</tspan><tspan x="472.5" dy="9">+ shutdown()</tspan></text>
</g>
</g>
</svg>
